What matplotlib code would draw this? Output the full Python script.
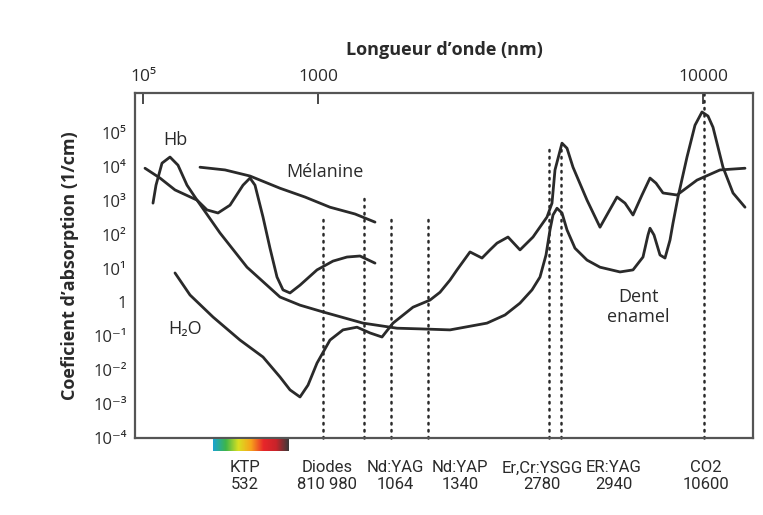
import numpy as np
import matplotlib.pyplot as plt
from matplotlib.colors import LinearSegmentedColormap

plt.rcParams['font.family'] = ['Open Sans', 'DejaVu Sans']

ink = "#2a2a2a"

# x = position along the (schematic) wavelength axis, y = log10 of absorption (1/cm)
hb_x = [18, 21, 27, 35, 43, 52, 62, 72, 83, 95, 108, 115, 120, 128, 135, 142, 148, 155, 165, 182, 198, 212, 225, 240]
hb_y = [2.93, 3.46, 4.11, 4.29, 4.05, 3.46, 3.02, 2.73, 2.64, 2.87, 3.46, 3.67, 3.46, 2.52, 1.60, 0.75, 0.37, 0.28, 0.51, 0.96, 1.22, 1.34, 1.37, 1.16]

mel_x = [65, 90, 115, 145, 170, 195, 220, 240]
mel_y = [3.99, 3.91, 3.73, 3.37, 3.11, 2.81, 2.61, 2.37]

enamel_x = [10, 25, 40, 62, 85, 112, 145, 165, 188, 228, 262, 285, 315, 352, 370, 385, 397, 405, 411, 415, 418,
            422, 427, 432, 440, 452, 465, 485, 498, 508, 513, 515, 519, 525, 530, 535, 538, 543, 552, 560, 567,
            573, 578, 588, 598, 610]
enamel_y = [3.96, 3.67, 3.32, 3.02, 2.05, 1.04, 0.16, -0.08, -0.28, -0.61, -0.76, -0.78, -0.81, -0.61, -0.37, -0.02,
            0.37, 0.75, 1.40, 2.14, 2.58, 2.78, 2.64, 2.14, 1.60, 1.25, 1.04, 0.90, 0.96, 1.34, 1.99, 2.19, 1.99,
            1.40, 1.31, 1.84, 2.34, 3.11, 4.29, 5.23, 5.62, 5.50, 5.17, 3.99, 3.23, 2.81]

h2o_x = [40, 55, 78, 105, 128, 145, 155, 165, 173, 182, 195, 208, 222, 235, 247, 258, 278, 295, 305, 315, 322,
         335, 347, 355, 362, 373, 385, 398, 412, 417, 420, 427, 432, 438, 452, 465, 473, 482, 490, 498, 507, 515,
         521, 528, 542, 562, 585, 610]
h2o_y = [0.87, 0.22, -0.43, -1.11, -1.61, -2.20, -2.58, -2.79, -2.44, -1.79, -1.11, -0.81, -0.73, -0.90, -1.02,
         -0.61, -0.14, 0.07, 0.30, 0.66, 0.96, 1.49, 1.31, 1.55, 1.75, 1.93, 1.55, 1.93, 2.52, 2.93, 3.91, 4.70,
         4.55, 3.99, 3.02, 2.22, 2.64, 3.11, 2.93, 2.58, 3.17, 3.67, 3.52, 3.23, 3.17, 3.61, 3.91, 3.96]

# lasers: dotted line position, top of the line, label
laser_x = [188, 229, 256, 293, 414, 426, 569]
laser_top = [2.49, 3.11, 2.49, 2.49, 4.55, 4.64, 6.2]
laser_names = ["KTP\n532", "Diodes\n810 980", "Nd:YAG\n1064", "Nd:YAP\n1340", "Er,Cr:YSGG\n2780", "ER:YAG\n2940", "CO2\n10600"]
label_x = [110, 192, 260, 325, 407, 479, 571]

top_ticks = [8, 183, 568]
top_labels = ["10⁵", "1000", "10000"]
y_ticks = [-4, -3, -2, -1, 0, 1, 2, 3, 4, 5]
y_labels = ["10⁻⁴", "10⁻³", "10⁻²", "10⁻¹", "1", "10¹", "10²", "10³", "10⁴", "10⁵"]

fig = plt.figure(figsize=(7.63, 5.15), dpi=100)
ax = fig.add_axes([135 / 763, 77 / 515, 618 / 763, 345 / 515])

for xs, ys in [(hb_x, hb_y), (mel_x, mel_y), (enamel_x, enamel_y), (h2o_x, h2o_y)]:
    ax.plot(xs, ys, color=ink, lw=2.0, solid_joinstyle="round", solid_capstyle="round")

for x, top in zip(laser_x, laser_top):
    ax.plot([x, x], [-4, top], color=ink, lw=1.8, linestyle=(0, (0.6, 2.2)), dash_capstyle="round", clip_on=False)

ax.set_xlim(0, 618)
ax.set_ylim(-4, 6.18)

ax.xaxis.tick_top()
ax.xaxis.set_label_position("top")
ax.set_xticks(top_ticks)
ax.set_xticklabels(top_labels, fontsize=12.5, color=ink)
ax.tick_params(axis="x", direction="in", length=8, width=1.2, color=ink, pad=6)
ax.set_xlabel("Longueur d’onde (nm)", fontsize=13, fontweight="bold", color=ink, labelpad=10)

ax.set_yticks(y_ticks)
ax.set_yticklabels(y_labels, fontsize=12, color=ink)
ax.tick_params(axis="y", length=0, pad=6)
ax.set_ylabel("Coeficient d’absorption (1/cm)", fontsize=13, fontweight="bold", color=ink, labelpad=10)

for s in ax.spines.values():
    s.set_color("#555555")
    s.set_linewidth(1.6)

ax.text(40, 4.79, "Hb", fontsize=13, color=ink, ha="center", va="center")
ax.text(190, 3.85, "Mélanine", fontsize=13, color=ink, ha="center", va="center")
ax.text(50, -0.78, "H₂O", fontsize=13, color=ink, ha="center", va="center")
ax.text(503, -0.14, "Dent\nenamel", fontsize=13, color=ink, ha="center", va="center", linespacing=1.1)

trans = ax.get_xaxis_transform()
for x, name in zip(label_x, laser_names):
    ax.text(x, -0.065, name, transform=trans, fontsize=12, color=ink, ha="center", va="top", linespacing=1.1,
            family=["Roboto", "DejaVu Sans"])

# spectrum bar under KTP
spec = LinearSegmentedColormap.from_list("spec", ["#1ba3d0", "#3db54a", "#d9e021", "#f7a21b", "#e8262a", "#c9232a", "#3a3a3a"])
bar = fig.add_axes([213 / 763, (515 - 451) / 515, 75 / 763, 12 / 515])
bar.imshow(np.linspace(0, 1, 200).reshape(1, -1), aspect="auto", cmap=spec)
bar.axis("off")

fig.savefig("out.png", dpi=100)
